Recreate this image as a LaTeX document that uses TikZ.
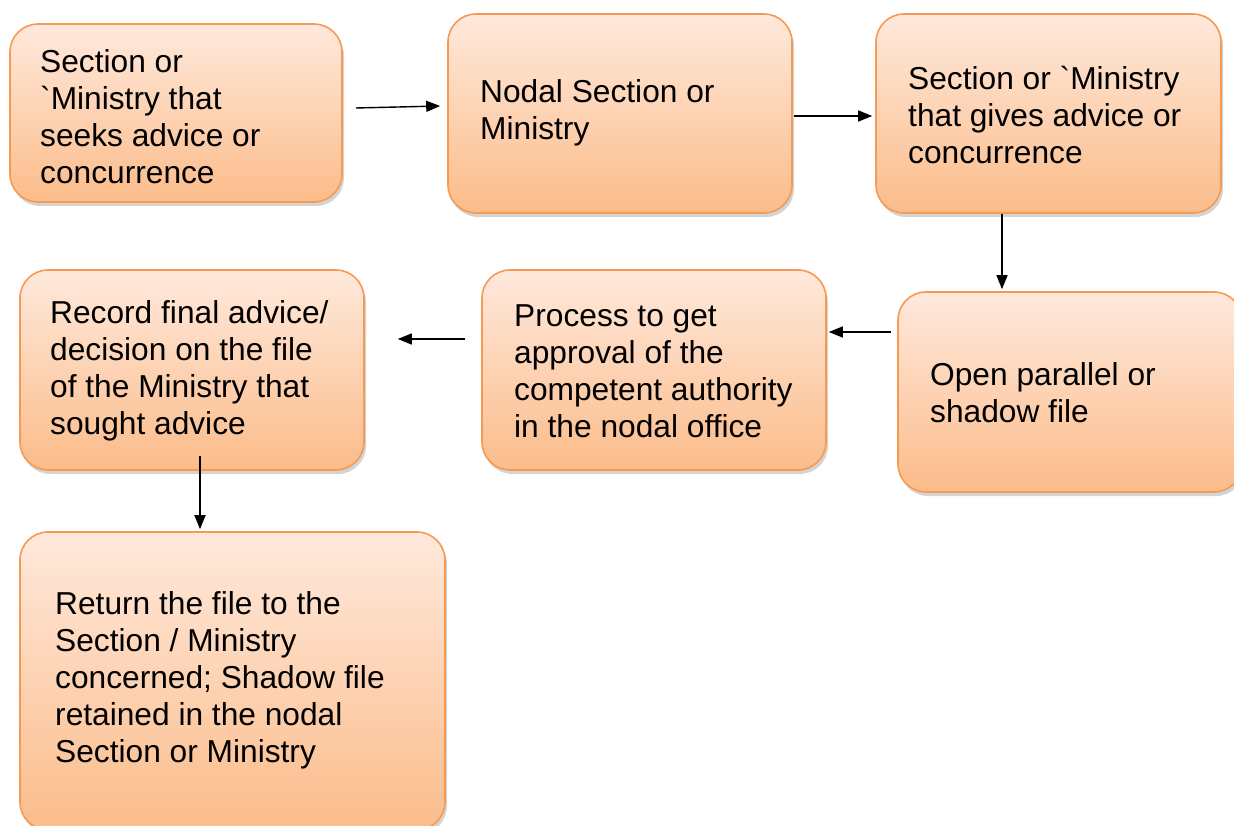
\documentclass[tikz,border=0pt]{standalone}
\usepackage{fontspec}
\setmainfont{Liberation Sans}[Ligatures=TeXOff]
\usetikzlibrary{arrows.meta,shadows}
\definecolor{boxborder}{HTML}{F59A52}
\definecolor{boxtop}{HTML}{FFE9DC}
\definecolor{boxbot}{HTML}{FBBC8A}
\tikzset{
  flowbox/.style={draw=boxborder, line width=1.6pt, rounded corners=28pt,
    top color=boxtop, bottom color=boxbot,
    drop shadow={opacity=0.28, shadow xshift=2pt, shadow yshift=-4pt, fill=black!60},
    inner sep=0pt},
  boxtext/.style={align=left, inner sep=0pt, anchor=west,
    font=\fontsize{31.7}{37}\selectfont},
  conn/.style={line width=1.4pt, -{Triangle[length=14pt,width=11pt]}}
}
\newcommand{\bq}{\symbol{96}}
\begin{document}
\begin{tikzpicture}[x=1pt,y=-1pt]
\useasboundingbox (0,0) rectangle (1234,826);
\node[flowbox, minimum width=332pt, minimum height=178pt] (A) at (176,113) {};
\node[flowbox, minimum width=344pt, minimum height=199pt] (B) at (620,113.5) {};
\node[flowbox, minimum width=345pt, minimum height=199pt] (C) at (1048.5,113.5) {};
\node[flowbox, minimum width=344pt, minimum height=200pt] (D) at (1070,392) {};
\node[flowbox, minimum width=344pt, minimum height=200pt] (E) at (654,370) {};
\node[flowbox, minimum width=344pt, minimum height=200pt] (F) at (192,370) {};
\node[flowbox, minimum width=425pt, minimum height=298pt] (G) at (232.5,681) {};
\node[boxtext] (At) at (40,117) {Section or\\\bq Ministry that\\seeks advice or\\concurrence};
\node[boxtext] (Bt) at (480,113) {Nodal Section or\\Ministry};
\node[boxtext] (Ct) at (908,115) {Section or \bq Ministry\\that gives advice or\\concurrence};
\node[boxtext] (Dt) at (930,393) {Open parallel or\\shadow file};
\node[boxtext] (Et) at (514,371) {Process to get\\approval of the\\competent authority\\in the nodal office};
\node[boxtext] (Ft) at (50,371) {Record final advice/\\decision on the file\\of the Ministry that\\sought advice};
\node[boxtext] (Gt) at (55,680) {Return the file to the\\Section / Ministry\\concerned; Shadow file\\retained in the nodal\\Section or Ministry};
\draw[conn] ([xshift=13pt,yshift=5pt]A.east) -- ([xshift=-7pt,yshift=7.5pt]B.west);
\draw[conn] ([xshift=1pt,yshift=-2.5pt]B.east) -- ([xshift=-3pt,yshift=-2.5pt]C.west);
\draw[conn] ([xshift=-46.5pt]C.south) -- ([xshift=-68pt,yshift=2pt]D.north);
\draw[conn] ([xshift=-6pt,yshift=60pt]D.west) -- ([xshift=2pt,yshift=38pt]E.east);
\draw[conn] ([xshift=-16pt,yshift=31pt]E.west) -- ([xshift=33pt,yshift=31pt]F.east);
\draw[conn] ([xshift=8pt,yshift=15pt]F.south) -- ([xshift=-32.5pt,yshift=2pt]G.north);
\end{tikzpicture}
\end{document}
